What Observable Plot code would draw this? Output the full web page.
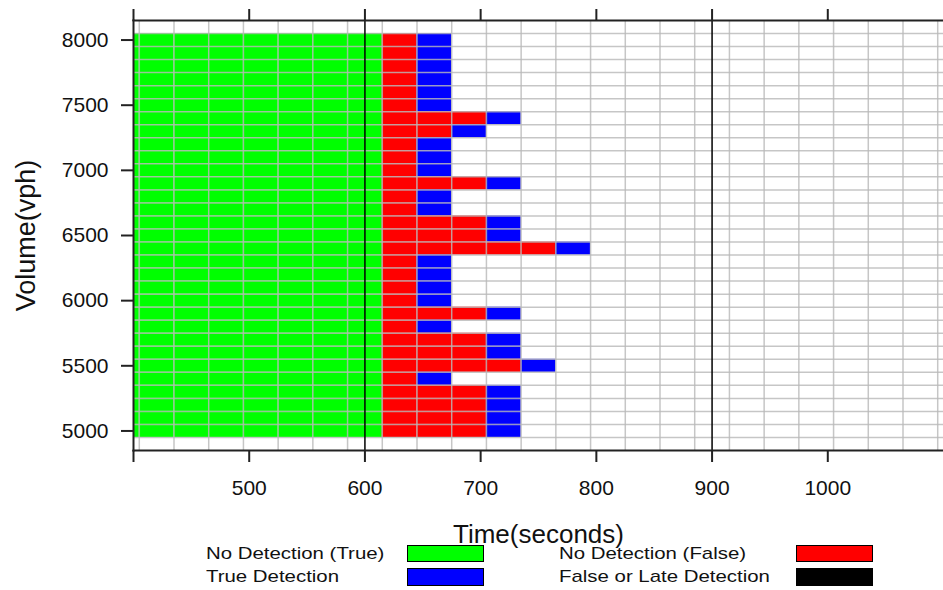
<!DOCTYPE html>
<html>
<head>
<meta charset="utf-8">
<script src="https://cdn.jsdelivr.net/npm/d3@7"></script>
<script src="https://cdn.jsdelivr.net/npm/@observablehq/plot@0.6"></script>
<style>
  html, body { margin: 0; padding: 0; background: #fff; }
  #wrap { position: relative; width: 943px; height: 590px; overflow: hidden;
          font-family: "Liberation Sans", Arial, sans-serif; color: #111; }
  .legtxt { position: absolute; font-size: 17px; line-height: 18px; height: 18px; white-space: nowrap; }
  .legtxt span { display: inline-block; transform: scaleX(1.2); transform-origin: left center; }
  .legsw { position: absolute; box-sizing: border-box; border: 1px solid #000; }
</style>
</head>
<body>
<div id="wrap"></div>
<script>
// Volume rows (vph), top to bottom
const volumes = [8000, 7900, 7800, 7700, 7600, 7500, 7400, 7300, 7200, 7100, 7000,
                 6900, 6800, 6700, 6600, 6500, 6400, 6300, 6200, 6100, 6000,
                 5900, 5800, 5700, 5600, 5500, 5400, 5300, 5200, 5100, 5000];
// Number of "No Detection (False)" cells after t = 600 s, per row
const falseCells = [1, 1, 1, 1, 1, 1, 3, 2, 1, 1, 1,
                    3, 1, 1, 3, 3, 5, 1, 1, 1, 1,
                    3, 1, 3, 3, 4, 1, 3, 3, 3, 3];
// Time cells (centres, seconds) of "No Detection (True)"
const trueTimes = [390, 420, 450, 480, 510, 540, 570, 600];
const cellSeconds = 30;
const cellVolume = 100;
const thresholds = [600, 900];
const xTicks = [400, 500, 600, 700, 800, 900, 1000];
const yTicks = [5000, 5500, 6000, 6500, 7000, 7500, 8000];
const categories = ["No Detection (True)", "True Detection", "No Detection (False)", "False or Late Detection"];
const colors = ["#00ff00", "#0000ff", "#ff0000", "#000000"];

const cells = [];
volumes.forEach((v, i) => {
  trueTimes.forEach(t => cells.push({v, t, cat: categories[0]}));
  const last = trueTimes[trueTimes.length - 1];
  for (let k = 1; k <= falseCells[i]; k++) cells.push({v, t: last + cellSeconds * k, cat: categories[2]});
  cells.push({v, t: last + cellSeconds * (falseCells[i] + 1), cat: categories[1]});
});

const xDomain = [400, 1100];
const yDomain = [4850, 8150];
const vGrid = d3.range(xDomain[0] + cellSeconds / 6, xDomain[1], cellSeconds);
const hGrid = d3.range(yDomain[0] + cellVolume, yDomain[1], cellVolume);

const chart = Plot.plot({
  width: 943, height: 550,
  marginTop: 20, marginBottom: 100, marginLeft: 133, marginRight: 0,
  x: {domain: xDomain},
  y: {domain: yDomain},
  color: {domain: categories, range: colors},
  style: {fontFamily: "'Liberation Sans', Arial, sans-serif", color: "#111", background: "#fff"},
  marks: [
    Plot.rect(cells, {
      x1: d => d.t - cellSeconds / 2, x2: d => d.t + cellSeconds / 2,
      y1: d => d.v - cellVolume / 2, y2: d => d.v + cellVolume / 2,
      fill: "cat", clip: true
    }),
    Plot.gridX({ticks: vGrid, stroke: "#b8b8b8", strokeOpacity: 0.8, strokeWidth: 1.5}),
    Plot.gridY({ticks: hGrid, stroke: "#b8b8b8", strokeOpacity: 0.8, strokeWidth: 1.5}),
    Plot.ruleX(thresholds, {stroke: "#000", strokeWidth: 1.5}),
    Plot.frame({anchor: "left", stroke: "#222", strokeWidth: 2}),
    Plot.frame({anchor: "top", stroke: "#222", strokeWidth: 2}),
    Plot.frame({anchor: "bottom", stroke: "#222", strokeWidth: 2}),
    Plot.axisX({anchor: "bottom", ticks: xTicks, tickSize: 12, tickPadding: 18, fontSize: 21,
                strokeWidth: 2, stroke: "#222",
                tickFormat: d => d === xDomain[0] ? "" : String(d), label: null}),
    Plot.axisX({anchor: "top", ticks: xTicks, tickSize: 12, strokeWidth: 2, stroke: "#222",
                tickFormat: () => "", label: null}),
    Plot.axisX({anchor: "bottom", ticks: [], label: "Time(seconds)", labelAnchor: "center",
                labelArrow: "none", labelOffset: 92, fontSize: 26}),
    Plot.axisY({anchor: "left", ticks: yTicks, tickSize: 12, tickPadding: 13, fontSize: 21,
                strokeWidth: 2, stroke: "#222", tickFormat: d => String(d), label: null}),
    Plot.axisY({anchor: "left", ticks: [], label: "Volume(vph)", labelAnchor: "center",
                labelArrow: "none", labelOffset: 118, fontSize: 27})
  ]
});

const wrap = document.getElementById("wrap");
wrap.appendChild(chart);

// Legend (HTML, below/over the bottom of the chart)
const legendCols = [{text: 206, sw: 407}, {text: 559, sw: 796}];
const legendRows = [{top: 545, h: 17}, {top: 568, h: 18}];
const legendOrder = [[0, 0, 0], [1, 0, 1], [2, 1, 0], [3, 1, 1]];
legendOrder.forEach(([ci, col, row]) => {
  const c = legendCols[col], r = legendRows[row];
  const t = document.createElement("div");
  t.className = "legtxt";
  t.style.left = c.text + "px";
  t.style.top = (r.top + r.h / 2 - 9) + "px";
  const s = document.createElement("span");
  s.textContent = categories[ci];
  t.appendChild(s);
  wrap.appendChild(t);
  const sw = document.createElement("div");
  sw.className = "legsw";
  sw.style.left = c.sw + "px";
  sw.style.top = r.top + "px";
  sw.style.width = "77px";
  sw.style.height = r.h + "px";
  sw.style.background = colors[ci];
  wrap.appendChild(sw);
});
</script>
</body>
</html>
